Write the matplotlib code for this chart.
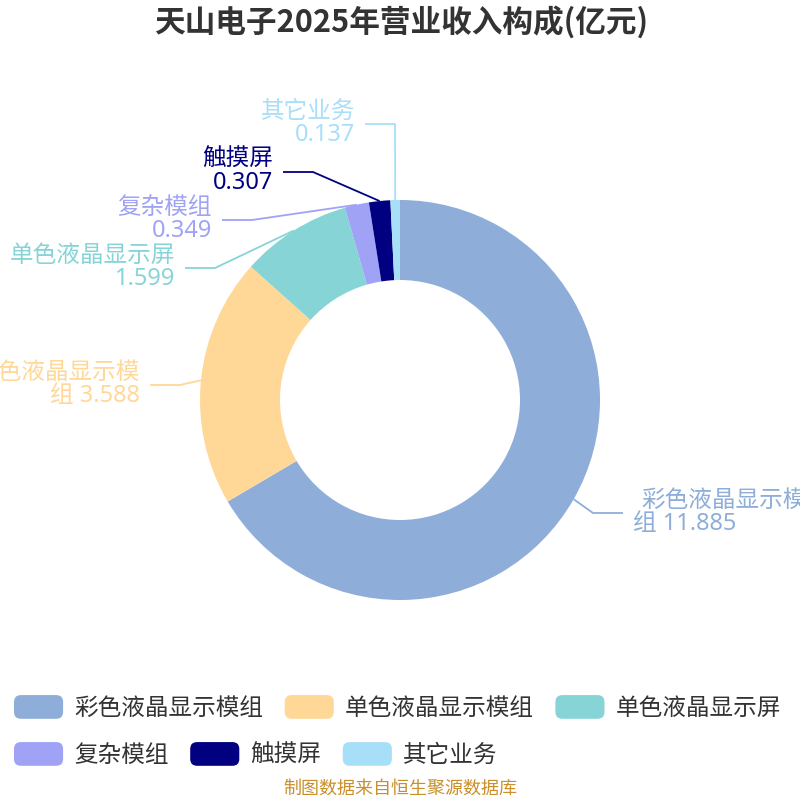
import matplotlib
matplotlib.use("Agg")
import matplotlib.pyplot as plt
import numpy as np
from matplotlib.patches import FancyBboxPatch, Patch
from matplotlib.legend_handler import HandlerPatch

plt.rcParams['font.family'] = ['Noto Sans', 'Noto Sans CJK SC', 'DejaVu Sans']

categories = ['彩色液晶显示模组', '单色液晶显示模组', '单色液晶显示屏', '复杂模组', '触摸屏', '其它业务']
values = [11.885, 3.588, 1.599, 0.349, 0.307, 0.137]
colors = ['#8eaed9', '#ffd898', '#87d4d7', '#a0a3f5', '#000080', '#a8dff8']
title = '天山电子2025年营业收入构成(亿元)'
source = '制图数据来自恒生聚源数据库'

# label layout (image pixel coords): elbow point, side, name line text
label_names = ['彩色液晶显示模', '单色液晶显示模', '单色液晶显示屏', '复杂模组', '触摸屏', '其它业务']
label_prefix = ['组 ', '组 ', '', '', '', '']
elbows = [(593, 513), (180, 385), (215, 268), (252, 220), (313, 172), (395, 124)]
sides = ['right', 'left', 'left', 'left', 'left', 'left']

fig = plt.figure(figsize=(8, 8), dpi=100)
ax = fig.add_axes([0, 0, 1, 1])

cx, cy, R = 400, 400, 200
wedges, _ = ax.pie(values, colors=colors, startangle=-90, counterclock=True,
                   center=(cx, cy), radius=R, wedgeprops=dict(width=80, linewidth=0),
                   frame=True)
ax.set_xlim(0, 800)
ax.set_ylim(800, 0)
ax.set_aspect('equal')
ax.axis('off')

for w, name, pre, val, col, (ex, ey), side in zip(wedges, label_names, label_prefix,
                                                  values, colors, elbows, sides):
    mid = np.deg2rad((w.theta1 + w.theta2) / 2)
    sx, sy = cx + R * np.cos(mid), cy + R * np.sin(mid)
    if side == 'left':
        hx = ex - 30
        tx = hx - 10
        ha = 'right'
    else:
        hx = ex + 30
        tx = hx + 10
        ha = 'left'
    ax.plot([sx, ex, hx], [sy, ey, ey], color=col, lw=1.3, solid_capstyle='butt')
    nx = tx + 8 if side == 'right' else tx
    ax.text(nx, ey - 12, name, color=col, fontsize=17, ha=ha, va='center')
    ax.text(tx, ey + 11, f'{pre}{val:.3f}', color=col, fontsize=17, ha=ha, va='center')

fig.text(0.502, 1 - 22 / 800, title, ha='center', va='center', fontsize=22.1,
         fontweight='bold', color='#333333', family=['Noto Sans CJK SC', 'DejaVu Sans'])
fig.text(0.5, 1 - 789 / 800, source, ha='center', va='center', fontsize=13,
         color='#c98f2a')


class RoundHandler(HandlerPatch):
    def create_artists(self, legend, orig_handle, xdescent, ydescent, width,
                       height, fontsize, trans):
        p = FancyBboxPatch((-xdescent + 3, -ydescent + 3), width - 6, height - 6,
                           boxstyle='round,pad=3,rounding_size=5',
                           facecolor=orig_handle.get_facecolor(), edgecolor='none',
                           transform=trans)
        return [p]


handles = [Patch(facecolor=c) for c in colors]
rows = [(0, 3, 708), (3, 6, 755)]
for a, b, yy in rows:
    leg = fig.legend(handles[a:b], categories[a:b], loc='center left',
                     bbox_to_anchor=(14 / 800, 1 - yy / 800), ncol=3, frameon=False,
                     fontsize=17, handlelength=2.08, handleheight=1.17,
                     handletextpad=0.46, columnspacing=0.92, borderpad=0,
                     borderaxespad=0, handler_map={Patch: RoundHandler()})
    for t in leg.get_texts():
        t.set_color('#333333')

fig.savefig('out.png', dpi=100)
